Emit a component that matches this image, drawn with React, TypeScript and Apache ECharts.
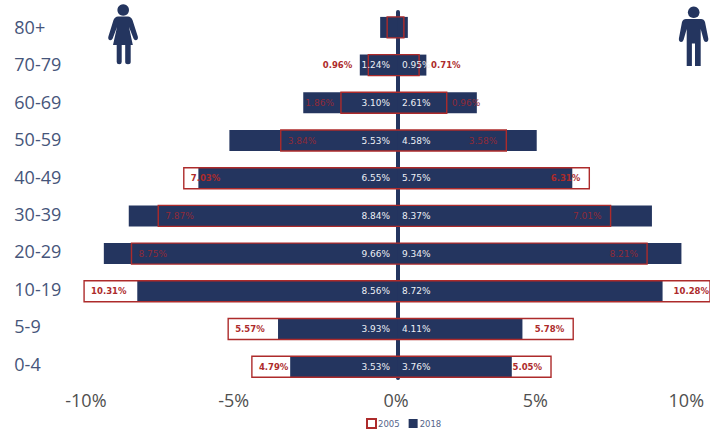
import React, { useEffect, useRef } from "react";
import * as echarts from "echarts";

const ageGroups = ["0-4", "5-9", "10-19", "20-29", "30-39", "40-49", "50-59", "60-69", "70-79", "80+"];
const female2018 = [3.53, 3.93, 8.56, 9.66, 8.84, 6.55, 5.53, 3.1, 1.24, 0.57];
const male2018 = [3.76, 4.11, 8.72, 9.34, 8.37, 5.75, 4.58, 2.61, 0.95, 0.34];
const female2005 = [4.79, 5.57, 10.31, 8.75, 7.87, 7.03, 3.84, 1.86, 0.96, 0.34];
const male2005 = [5.05, 5.78, 10.28, 8.21, 7.01, 6.31, 3.58, 1.62, 0.71, 0.21];
const female2018Labels = ["3.53%", "3.93%", "8.56%", "9.66%", "8.84%", "6.55%", "5.53%", "3.10%", "1.24%", ""];
const male2018Labels = ["3.76%", "4.11%", "8.72%", "9.34%", "8.37%", "5.75%", "4.58%", "2.61%", "0.95%", ""];
const female2005Labels = ["4.79%", "5.57%", "10.31%", "8.75%", "7.87%", "7.03%", "3.84%", "1.86%", "0.96%", ""];
const male2005Labels = ["5.05%", "5.78%", "10.28%", "8.21%", "7.01%", "6.31%", "3.58%", "0.96%", "0.71%", ""];
const xTickLabels = ["-10%", "-5%", "0%", "5%", "10%"];
const xTickPlaces = [-10.25, -5.39, -0.05, 4.53, 9.5];

const NAVY = "#24355f";
const RED = "#ad2b2b";
const DIM_RED = "#8f2a38";
const FONT = "'DejaVu Sans', sans-serif";

const WOMAN =
  "M118 16.5 L128 16.5 Q131 16.5 132.5 20 L137.8 36.5 Q138.5 39.5 136 40.3 Q134.3 40.5 133.5 38.5 L129 27 L132.8 45 L130.7 45 L130.7 62 Q130.7 64.2 128 64.2 Q125.2 64.2 125.2 62 L125.2 45 L121.7 45 L121.7 62 Q121.7 64.2 119.2 64.2 Q116.7 64.2 116.7 62 L116.7 45 L113 45 L117 27 L112.7 38.5 Q111.9 40.5 110 40.3 Q107.6 39.5 108.4 36.5 L113.5 20 Q115 16.5 118 16.5 Z";
const MAN =
  "M686 19 L701 19 Q704 19 705 22 L708.3 38.5 Q708.6 41.8 706 42 Q704.3 42 703.6 39.8 L700.7 29 L700.7 66 L695 66 L695 43.5 L691.9 43.5 L691.9 66 L686.7 66 L686.7 29 L683.6 39.8 Q682.9 42 681.2 42 Q678.6 41.8 678.9 38.5 L682 22 Q683 19 686 19 Z";

echarts.graphic.registerShape("womanIcon", echarts.graphic.extendPath(WOMAN, {}));
echarts.graphic.registerShape("manIcon", echarts.graphic.extendPath(MAN, {}));

export default function App() {
  const ref = useRef<HTMLDivElement>(null);
  useEffect(() => {
    const chart = echarts.init(ref.current!, null, { renderer: "svg" });
    const baseSeries = { type: "bar" as const, barWidth: 21, barGap: "-100%", xAxisIndex: 0, yAxisIndex: 0 };
    const hidden = { color: "rgba(0,0,0,0)" };
    const whiteLabel = { show: true, color: "#eceff5", fontSize: 9, fontFamily: FONT };
    const redLabel = { show: true, color: RED, fontSize: 8.5, fontWeight: "bold" as const, fontFamily: FONT };
    const redItem = (
      v: number,
      i: number,
      sign: number,
      inside: string,
      outside: string,
      dist: number,
      other: number[],
    ) => {
      const isOutside = i === 7 || i === 8;
      const d = isOutside ? (i === 8 ? (sign < 0 ? 16 : 12) : sign < 0 ? 7 : 5) : dist;
      const onNavy = v < other[i] && i !== 8;
      return {
        value: sign * v,
        label: {
          position: isOutside ? outside : inside,
          distance: d,
          ...(onNavy ? { color: DIM_RED, fontWeight: "normal", fontSize: 9 } : {}),
        },
      };
    };
    chart.setOption({
      animation: false,
      backgroundColor: "#ffffff",
      grid: [
        { left: 78.3, right: 0, top: 8.55, height: 377 },
        { left: 78.3, right: 0, top: 12, height: 366 },
        { left: 78.3, right: 0, top: 8.3, height: 374 },
      ],
      legend: {
        left: 366,
        top: 418,
        padding: 0,
        icon: "rect",
        itemWidth: 9,
        itemHeight: 9,
        itemGap: 9,
        data: ["2005", "2018"],
        textStyle: { color: "#55648a", fontSize: 8.5, fontFamily: FONT, padding: [0, 0, 0, -3] },
      },
      xAxis: [
        {
          type: "value",
          gridIndex: 0,
          min: -10.5,
          max: 10.28,
          splitLine: { show: false },
          axisLine: { show: false },
          axisTick: { show: false },
          axisLabel: {
            customValues: xTickPlaces,
            formatter: (v: number) => xTickLabels[xTickPlaces.indexOf(v)],
            color: "#4f4f4f",
            fontSize: 18,
            fontWeight: 500,
            fontFamily: "'Open Sans', sans-serif",
            margin: 5,
          },
        },
        { type: "value", gridIndex: 1, min: -10.5, max: 10.28, show: false },
        { type: "value", gridIndex: 2, min: -10.5, max: 10.28, show: false },
      ],
      yAxis: [
        {
          type: "category",
          gridIndex: 0,
          data: ageGroups,
          axisLine: { show: false, onZero: false },
          axisTick: { show: false },
          axisLabel: { show: false },
        },
        {
          type: "category",
          gridIndex: 1,
          z: 0,
          data: ageGroups,
          axisLine: { show: true, onZero: true, lineStyle: { color: NAVY, width: 4 } },
          axisTick: { show: false },
          axisLabel: { show: false },
        },
        {
          type: "category",
          gridIndex: 2,
          data: ageGroups,
          axisLine: { show: false, onZero: false },
          axisTick: { show: false },
          axisLabel: {
            align: "left",
            margin: 64,
            color: "#46557a",
            fontSize: 18,
            fontWeight: 500,
            fontFamily: "'Open Sans', sans-serif",
          },
        },
      ],
      series: [
        { ...baseSeries, name: "2018", data: female2018.map((v) => -v), itemStyle: { color: NAVY }, z: 5 },
        { ...baseSeries, name: "2018", data: male2018, itemStyle: { color: NAVY }, z: 5 },
        {
          type: "custom",
          name: "2005",
          xAxisIndex: 0,
          yAxisIndex: 0,
          z: 6,
          silent: true,
          itemStyle: { color: "rgba(255,255,255,0)", borderColor: RED, borderWidth: 1.4 },
          encode: { x: [0, 1], y: 2 },
          data: ageGroups.map((_c, i) => [-female2005[i], male2005[i], i]),
          renderItem: (_p: any, api: any) => {
            const a = api.coord([api.value(0), api.value(2)]);
            const b = api.coord([api.value(1), api.value(2)]);
            const h = 21;
            return {
              type: "rect",
              shape: { x: a[0], y: a[1] - h / 2, width: b[0] - a[0], height: h },
              style: { fill: "none", stroke: RED, lineWidth: 1.4 },
            };
          },
        },
        {
          ...baseSeries,
          name: "2005 female labels",
          data: female2005.map((v, i) => redItem(v, i, -1, "insideLeft", "left", 7, female2018)),
          itemStyle: hidden,
          label: { ...redLabel, formatter: (p: any) => female2005Labels[p.dataIndex] },
          z: 7,
        },
        {
          ...baseSeries,
          name: "2005 male labels",
          data: male2005.map((v, i) => redItem(v, i, 1, "insideRight", "right", i === 2 ? 1 : 9, male2018)),
          itemStyle: hidden,
          label: { ...redLabel, formatter: (p: any) => male2005Labels[p.dataIndex] },
          z: 7,
        },
        {
          ...baseSeries,
          name: "2018 female labels",
          data: female2018.map((v) => -v),
          itemStyle: hidden,
          label: {
            ...whiteLabel,
            position: "insideRight",
            distance: 7.5,
            formatter: (p: any) => female2018Labels[p.dataIndex],
          },
          z: 8,
        },
        {
          ...baseSeries,
          name: "2018 male labels",
          data: male2018,
          itemStyle: hidden,
          label: {
            ...whiteLabel,
            position: "insideLeft",
            distance: 4.5,
            formatter: (p: any) => male2018Labels[p.dataIndex],
          },
          z: 8,
        },
      ],
      graphic: [
        { type: "circle", shape: { cx: 123.2, cy: 10, r: 5.8 }, style: { fill: NAVY } },
        { type: "womanIcon", x: 0, y: 0, style: { fill: NAVY } },
        { type: "circle", shape: { cx: 693.7, cy: 12.3, r: 5.8 }, style: { fill: NAVY } },
        { type: "manIcon", x: 0, y: 0, style: { fill: NAVY } },
      ],
    });
    return () => chart.dispose();
  }, []);
  return <div ref={ref} style={{ position: "fixed", left: 0, top: 0, width: 710, height: 430 }} />;
}
